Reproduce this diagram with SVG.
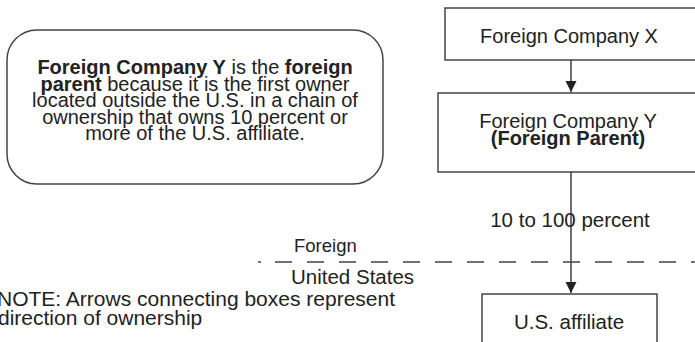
<svg xmlns="http://www.w3.org/2000/svg" width="695" height="342" viewBox="0 0 695 342">
<defs>
<style>
text{font-family:"Liberation Sans",Arial,sans-serif;font-size:20.5px;fill:#222}
.c{text-anchor:middle}
.b{font-weight:bold}
.bub{font-size:20px}
.note{font-size:21px}
.box{fill:#fff;stroke:#444;stroke-width:1.5}
.ln{stroke:#222;stroke-width:1.3;fill:none}
</style>
<marker id="arr" markerWidth="11" markerHeight="12" refX="11" refY="5.5" orient="auto" markerUnits="userSpaceOnUse">
<path d="M0,0 L11,5.5 L0,11 Z" fill="#222"/>
</marker>
</defs>
<g id="note-bubble">
<rect class="box" x="7" y="30" width="376" height="154" rx="30" ry="30"/>
<text class="c bub" x="195" y="74"><tspan class="b">Foreign Company Y</tspan> is the <tspan class="b">foreign</tspan></text>
<text class="c bub" x="195" y="90.5"><tspan class="b">parent</tspan> because it is the first owner</text>
<text class="c bub" x="195" y="107">located outside the U.S. in a chain of</text>
<text class="c bub" x="195" y="123.5">ownership that owns 10 percent or</text>
<text class="c bub" x="195" y="140">more of the U.S. affiliate.</text>
</g>
<g id="connectors">
<line class="ln" x1="571" y1="60" x2="571" y2="92" marker-end="url(#arr)"/>
<line class="ln" x1="571" y1="172" x2="571" y2="293" marker-end="url(#arr)"/>
<line x1="258" y1="262" x2="695" y2="262" stroke="#444" stroke-width="1.3" stroke-dasharray="3 14 17 15 17 15 17 15 17 15 17 15 17 15 17 15 17 15 17 15 17 15 17 15 17 15 17 15 17 15 17 15 17 15"/>
</g>
<g id="foreign-company-x">
<rect class="box" x="445" y="8" width="260" height="52"/>
<text class="c" x="569" y="43" style="font-size:20px">Foreign Company X</text>
</g>
<g id="foreign-company-y">
<rect class="box" x="438" y="93" width="267" height="79"/>
<text class="c" x="568" y="128" style="font-size:20px">Foreign Company Y</text>
<text class="c b" x="568" y="145" style="font-size:20px">(Foreign Parent)</text>
</g>
<g id="us-affiliate">
<rect class="box" x="482" y="294" width="175" height="60"/>
<text class="c" x="569" y="329">U.S. affiliate</text>
</g>
<g id="labels">
<text class="c" x="570" y="227">10 to 100 percent</text>
<text x="294" y="252" style="font-size:18.5px">Foreign</text>
<text x="291" y="284">United States</text>
<text class="note" x="-3" y="306">NOTE: Arrows connecting boxes represent</text>
<text class="note" x="-2" y="325">direction of ownership</text>
</g>
</svg>
